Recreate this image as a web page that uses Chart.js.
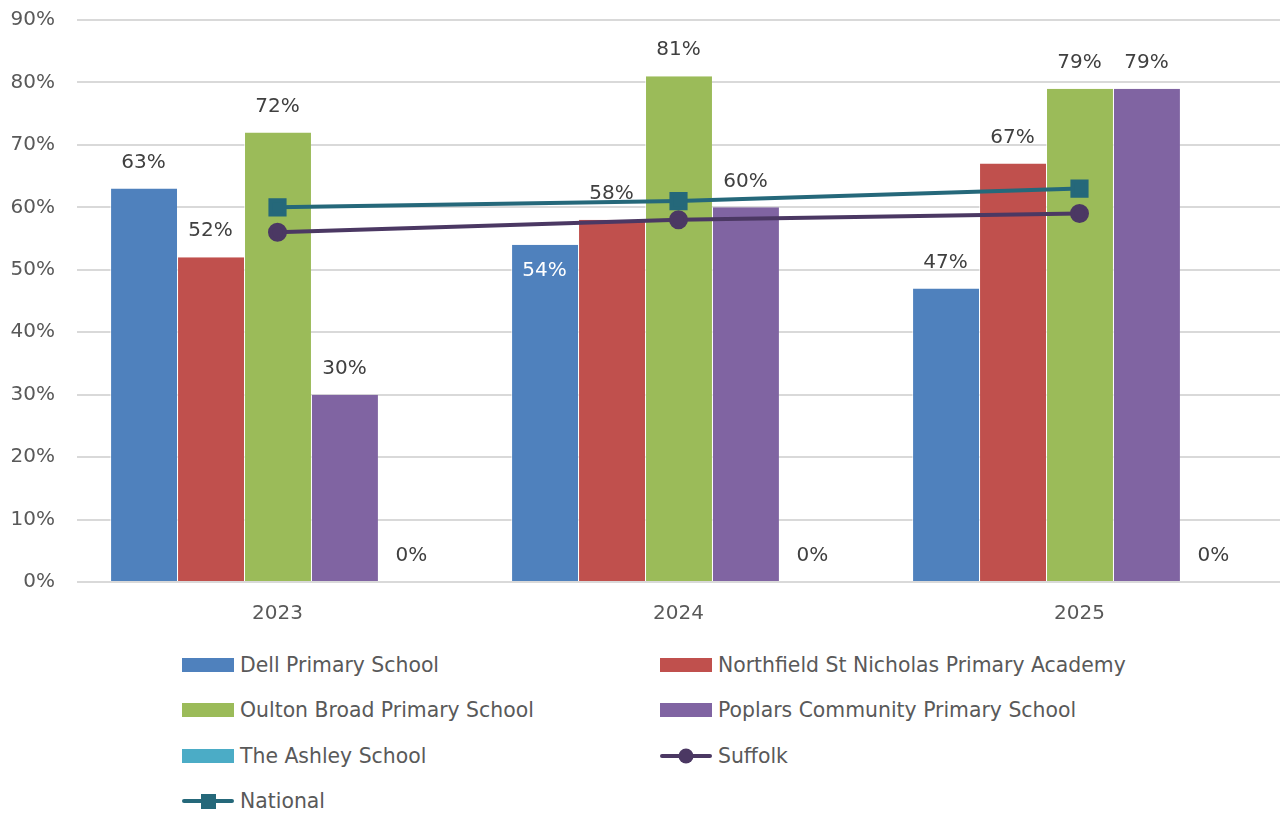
<!DOCTYPE html>
<html>
<head>
<meta charset="utf-8">
<script src="https://cdn.jsdelivr.net/npm/chart.js@4/dist/chart.umd.min.js"></script>
<style>
  html, body { margin: 0; padding: 0; background: #fff; }
  body { width: 1280px; height: 814px; position: relative; overflow: hidden; font-family: "DejaVu Sans", sans-serif; }
  #wrap { position: absolute; left: 0; top: 0; width: 1280px; height: 640px; }
  #legend { position: absolute; left: 0; top: 642px; width: 1280px; }
  .item { position: absolute; display: flex; align-items: center; height: 30px; color: #595959; font-size: 20.4px; white-space: nowrap; }
  .item canvas { margin-right: 5px; }
</style>
</head>
<body>
<div id="wrap"><canvas id="chart"></canvas></div>
<div id="legend"></div>
<script>
const years = ['2023', '2024', '2025'];
const schools = ['Dell Primary School', 'Northfield St Nicholas Primary Academy', 'Oulton Broad Primary School', 'Poplars Community Primary School', 'The Ashley School'];
const dell = [63, 54, 47];
const northfield = [52, 58, 67];
const oulton = [72, 81, 79];
const poplars = [30, 60, 79];
const ashley = [0, 0, 0];
const suffolk = [56, 58, 59];
const national = [60, 61, 63];
const yTicks = [0, 10, 20, 30, 40, 50, 60, 70, 80, 90];

const barColours = ['#4F81BD', '#C0504D', '#9BBB59', '#8064A2', '#4BACC6'];
const suffolkColour = '#4B3863';
const nationalColour = '#25687A';
const fontFamily = '"DejaVu Sans", sans-serif';

const barSets = [dell, northfield, oulton, poplars, ashley].map((d, i) => ({
    type: 'bar',
    label: schools[i],
    data: d,
    backgroundColor: barColours[i],
    borderColor: 'rgba(255,255,255,0.6)',
    borderWidth: { left: 1, right: 0, top: 0, bottom: 0 },
    categoryPercentage: 0.835,
    barPercentage: 1,
    order: 2,
}));

const labelPlugin = {
    id: 'barLabels',
    afterDatasetDraw(chart, args) {
        const ds = chart.data.datasets[args.index];
        if (ds.type !== 'bar') return;
        const ctx = chart.ctx;
        ctx.save();
        ctx.font = '20px ' + fontFamily;
        ctx.textAlign = 'center';
        ctx.textBaseline = 'middle';
        args.meta.data.forEach((bar, j) => {
            const v = ds.data[j];
            // Excel put the 2024 Dell label inside the bar
            const inside = args.index === 0 && j === 1;
            ctx.fillStyle = inside ? '#ffffff' : '#404040';
            ctx.fillText(v + '%', bar.x, inside ? bar.y + 26 : bar.y - 26);
        });
        ctx.restore();
    }
};

new Chart(document.getElementById('chart'), {
    data: {
        labels: years,
        datasets: [
            ...barSets,
            {
                type: 'line', label: 'Suffolk', data: suffolk,
                borderColor: suffolkColour, backgroundColor: suffolkColour,
                borderWidth: 4, pointStyle: 'circle', pointRadius: 7.5, pointHoverRadius: 7.5, order: 1,
            },
            {
                type: 'line', label: 'National', data: national,
                borderColor: nationalColour, backgroundColor: nationalColour,
                borderWidth: 4, pointStyle: 'rect', pointRadius: 10, pointHoverRadius: 10, order: 0,
            },
        ],
    },
    options: {
        responsive: true,
        maintainAspectRatio: false,
        animation: false,
        layout: { autoPadding: false, padding: { top: 20, right: 0, left: 0, bottom: 0 } },
        plugins: { legend: { display: false }, tooltip: { enabled: false } },
        scales: {
            x: {
                grid: { display: false },
                border: { display: false },
                ticks: { color: '#595959', font: { size: 20, family: fontFamily }, padding: 12 },
                afterFit(s) { s.height = 58; s.paddingLeft = 0; s.paddingRight = 0; },
            },
            y: {
                min: 0, max: 90,
                afterBuildTicks(s) { s.ticks = yTicks.map(v => ({ value: v })); },
                grid: { color: '#D9D9D9', lineWidth: 2, drawTicks: false },
                border: { display: false },
                ticks: { color: '#595959', font: { size: 20, family: fontFamily }, padding: 22, callback: v => v + '%' },
                afterFit(s) { s.width = 77; s.paddingTop = 0; s.paddingBottom = 0; },
            },
        },
    },
    plugins: [labelPlugin],
});

// legend, laid out like the Excel one in two columns
const legendItems = [
    { name: schools[0], kind: 'bar', colour: barColours[0], col: 0, row: 0 },
    { name: schools[1], kind: 'bar', colour: barColours[1], col: 1, row: 0 },
    { name: schools[2], kind: 'bar', colour: barColours[2], col: 0, row: 1 },
    { name: schools[3], kind: 'bar', colour: barColours[3], col: 1, row: 1 },
    { name: schools[4], kind: 'bar', colour: barColours[4], col: 0, row: 2 },
    { name: 'Suffolk', kind: 'circle', colour: suffolkColour, col: 1, row: 2 },
    { name: 'National', kind: 'rect', colour: nationalColour, col: 0, row: 3 },
];
const legend = document.getElementById('legend');
legendItems.forEach(it => {
    const div = document.createElement('div');
    div.className = 'item';
    div.style.left = (it.col === 0 ? 181 : 659) + 'px';
    div.style.top = (it.row * 45.3 + 8) + 'px';
    const c = document.createElement('canvas');
    c.width = 54; c.height = 30;
    const g = c.getContext('2d');
    g.fillStyle = it.colour;
    g.strokeStyle = it.colour;
    if (it.kind === 'bar') {
        g.fillRect(1, 8, 52, 14);
    } else {
        g.lineWidth = 4; g.lineCap = 'round';
        g.beginPath(); g.moveTo(3, 15); g.lineTo(51, 15); g.stroke();
        if (it.kind === 'circle') { g.beginPath(); g.arc(27, 15, 7.5, 0, Math.PI * 2); g.fill(); }
        else g.fillRect(20, 8, 15, 15);
    }
    div.appendChild(c);
    const span = document.createElement('span');
    span.textContent = it.name;
    div.appendChild(span);
    legend.appendChild(div);
});
</script>
</body>
</html>
